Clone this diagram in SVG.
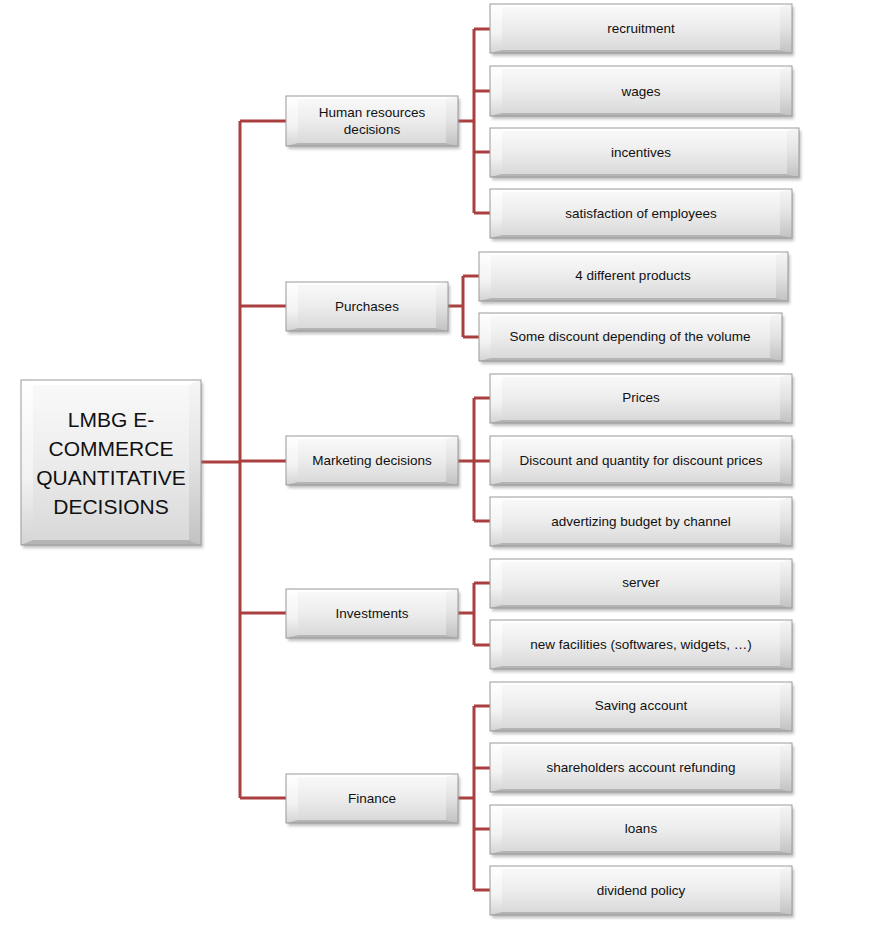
<svg xmlns="http://www.w3.org/2000/svg" width="885" height="927" viewBox="0 0 885 927">
<defs>
<linearGradient id="gFace" x1="0" y1="0" x2="0" y2="1">
<stop offset="0" stop-color="#fafafa"/>
<stop offset="0.45" stop-color="#eeeeee"/>
<stop offset="1" stop-color="#d7d7d7"/>
</linearGradient>
<linearGradient id="gL" x1="0" y1="0" x2="0" y2="1">
<stop offset="0" stop-color="#ffffff"/>
<stop offset="0.6" stop-color="#f2f2f2"/>
<stop offset="1" stop-color="#d4d4d4"/>
</linearGradient>
<linearGradient id="gR" x1="0" y1="0" x2="0" y2="1">
<stop offset="0" stop-color="#f6f6f6"/>
<stop offset="0.5" stop-color="#e2e2e2"/>
<stop offset="1" stop-color="#c2c2c2"/>
</linearGradient>
<filter id="blur" x="-10%" y="-20%" width="120%" height="140%">
<feGaussianBlur stdDeviation="1.4"/>
</filter>
<style>
.sh{fill:#808080;opacity:.5;filter:url(#blur)}
.face{fill:url(#gFace)}
.bt{fill:#ffffff;opacity:.9}
.bl{fill:url(#gL)}
.br{fill:url(#gR)}
.bb{fill:#b4b4b4}
.edge{fill:none;stroke:#9a9a9a;stroke-width:1}
text{font-family:"Liberation Sans","Open Sans",Arial,sans-serif;fill:#111111;text-anchor:middle}
.t{font-size:13.5px}
.tr{font-size:21px}
.conn{fill:none;stroke:#a9403f;stroke-width:3;stroke-linejoin:miter}
</style>
</defs>
<rect width="885" height="927" fill="#ffffff"/>

<g id="connectors">
<path class="conn" d="M201 462H240M240 121V798M240 121H286M240 306H286M240 461H286M240 613H286M240 798H286"/>
<path class="conn" d="M458 121H474M474 29V213M474 29H490M474 91H490M474 152H490M474 213H490"/>
<path class="conn" d="M448 306H463M463 276V337M463 276H479M463 337H479"/>
<path class="conn" d="M458 461H474M474 398V521M474 398H490M474 461H490M474 521H490"/>
<path class="conn" d="M458 613H474M474 583V645M474 583H490M474 645H490"/>
<path class="conn" d="M458 798H474M474 706V890M474 706H490M474 768H490M474 829H490M474 890H490"/>
</g>

<g id="n-root" transform="translate(21,380)">
<rect class="sh" x="2" y="3" width="180" height="165"/>
<rect class="face" width="180" height="165"/>
<path class="bt" d="M0 0h180l-12 5h-156z"/>
<path class="bl" d="M0 0l12 5v155l-12 5z"/>
<path class="br" d="M180 0v165l-12-5v-155z"/>
<path class="bb" d="M0 165l12-5h156l12 5z"/>
<rect class="edge" width="180" height="165"/>
<text class="tr" x="90" y="47">LMBG E-</text>
<text class="tr" x="90" y="76">COMMERCE</text>
<text class="tr" x="90" y="105">QUANTITATIVE</text>
<text class="tr" x="90" y="134">DECISIONS</text>
</g>

<g id="n-hr" transform="translate(286,96)">
<rect class="sh" x="2" y="3" width="172" height="50"/>
<rect class="face" width="172" height="50"/>
<path class="bt" d="M0 0h172l-12 3h-148z"/>
<path class="bl" d="M0 0l12 3v44l-12 3z"/>
<path class="br" d="M172 0v50l-12-3v-44z"/>
<path class="bb" d="M0 50l12-3h148l12 3z"/>
<rect class="edge" width="172" height="50"/>
<text class="t" x="86" y="21">Human resources</text>
<text class="t" x="86" y="38">decisions</text>
</g>

<g id="n-pur" transform="translate(286,282)">
<rect class="sh" x="2" y="3" width="162" height="49"/>
<rect class="face" width="162" height="49"/>
<path class="bt" d="M0 0h162l-12 3h-138z"/>
<path class="bl" d="M0 0l12 3v43l-12 3z"/>
<path class="br" d="M162 0v49l-12-3v-43z"/>
<path class="bb" d="M0 49l12-3h138l12 3z"/>
<rect class="edge" width="162" height="49"/>
<text class="t" x="81" y="29">Purchases</text>
</g>

<g id="n-mkt" transform="translate(286,436)">
<rect class="sh" x="2" y="3" width="172" height="49"/>
<rect class="face" width="172" height="49"/>
<path class="bt" d="M0 0h172l-12 3h-148z"/>
<path class="bl" d="M0 0l12 3v43l-12 3z"/>
<path class="br" d="M172 0v49l-12-3v-43z"/>
<path class="bb" d="M0 49l12-3h148l12 3z"/>
<rect class="edge" width="172" height="49"/>
<text class="t" x="86" y="29">Marketing decisions</text>
</g>

<g id="n-inv" transform="translate(286,589)">
<rect class="sh" x="2" y="3" width="172" height="49"/>
<rect class="face" width="172" height="49"/>
<path class="bt" d="M0 0h172l-12 3h-148z"/>
<path class="bl" d="M0 0l12 3v43l-12 3z"/>
<path class="br" d="M172 0v49l-12-3v-43z"/>
<path class="bb" d="M0 49l12-3h148l12 3z"/>
<rect class="edge" width="172" height="49"/>
<text class="t" x="86" y="29">Investments</text>
</g>

<g id="n-fin" transform="translate(286,774)">
<rect class="sh" x="2" y="3" width="172" height="49"/>
<rect class="face" width="172" height="49"/>
<path class="bt" d="M0 0h172l-12 3h-148z"/>
<path class="bl" d="M0 0l12 3v43l-12 3z"/>
<path class="br" d="M172 0v49l-12-3v-43z"/>
<path class="bb" d="M0 49l12-3h148l12 3z"/>
<rect class="edge" width="172" height="49"/>
<text class="t" x="86" y="29">Finance</text>
</g>

<g id="n-recruitment" transform="translate(490,4)">
<rect class="sh" x="2" y="3" width="302" height="49"/>
<rect class="face" width="302" height="49"/>
<path class="bt" d="M0 0h302l-12 3h-278z"/>
<path class="bl" d="M0 0l12 3v43l-12 3z"/>
<path class="br" d="M302 0v49l-12-3v-43z"/>
<path class="bb" d="M0 49l12-3h278l12 3z"/>
<rect class="edge" width="302" height="49"/>
<text class="t" x="151" y="29">recruitment</text>
</g>

<g id="n-wages" transform="translate(490,66)">
<rect class="sh" x="2" y="3" width="302" height="50"/>
<rect class="face" width="302" height="50"/>
<path class="bt" d="M0 0h302l-12 3h-278z"/>
<path class="bl" d="M0 0l12 3v44l-12 3z"/>
<path class="br" d="M302 0v50l-12-3v-44z"/>
<path class="bb" d="M0 50l12-3h278l12 3z"/>
<rect class="edge" width="302" height="50"/>
<text class="t" x="151" y="30">wages</text>
</g>

<g id="n-incentives" transform="translate(490,128)">
<rect class="sh" x="2" y="3" width="309" height="49"/>
<rect class="face" width="309" height="49"/>
<path class="bt" d="M0 0h309l-12 3h-285z"/>
<path class="bl" d="M0 0l12 3v43l-12 3z"/>
<path class="br" d="M309 0v49l-12-3v-43z"/>
<path class="bb" d="M0 49l12-3h285l12 3z"/>
<rect class="edge" width="309" height="49"/>
<text class="t" x="151" y="29">incentives</text>
</g>

<g id="n-satisfaction" transform="translate(490,189)">
<rect class="sh" x="2" y="3" width="302" height="49"/>
<rect class="face" width="302" height="49"/>
<path class="bt" d="M0 0h302l-12 3h-278z"/>
<path class="bl" d="M0 0l12 3v43l-12 3z"/>
<path class="br" d="M302 0v49l-12-3v-43z"/>
<path class="bb" d="M0 49l12-3h278l12 3z"/>
<rect class="edge" width="302" height="49"/>
<text class="t" x="151" y="29">satisfaction of employees</text>
</g>

<g id="n-products" transform="translate(479,252)">
<rect class="sh" x="2" y="3" width="309" height="49"/>
<rect class="face" width="309" height="49"/>
<path class="bt" d="M0 0h309l-12 3h-285z"/>
<path class="bl" d="M0 0l12 3v43l-12 3z"/>
<path class="br" d="M309 0v49l-12-3v-43z"/>
<path class="bb" d="M0 49l12-3h285l12 3z"/>
<rect class="edge" width="309" height="49"/>
<text class="t" x="154" y="28">4 different products</text>
</g>

<g id="n-volume" transform="translate(479,313)">
<rect class="sh" x="2" y="3" width="303" height="48"/>
<rect class="face" width="303" height="48"/>
<path class="bt" d="M0 0h303l-12 3h-279z"/>
<path class="bl" d="M0 0l12 3v42l-12 3z"/>
<path class="br" d="M303 0v48l-12-3v-42z"/>
<path class="bb" d="M0 48l12-3h279l12 3z"/>
<rect class="edge" width="303" height="48"/>
<text class="t" x="151" y="28">Some discount depending of the volume</text>
</g>

<g id="n-prices" transform="translate(490,374)">
<rect class="sh" x="2" y="3" width="302" height="49"/>
<rect class="face" width="302" height="49"/>
<path class="bt" d="M0 0h302l-12 3h-278z"/>
<path class="bl" d="M0 0l12 3v43l-12 3z"/>
<path class="br" d="M302 0v49l-12-3v-43z"/>
<path class="bb" d="M0 49l12-3h278l12 3z"/>
<rect class="edge" width="302" height="49"/>
<text class="t" x="151" y="28">Prices</text>
</g>

<g id="n-discount" transform="translate(490,436)">
<rect class="sh" x="2" y="3" width="302" height="49"/>
<rect class="face" width="302" height="49"/>
<path class="bt" d="M0 0h302l-12 3h-278z"/>
<path class="bl" d="M0 0l12 3v43l-12 3z"/>
<path class="br" d="M302 0v49l-12-3v-43z"/>
<path class="bb" d="M0 49l12-3h278l12 3z"/>
<rect class="edge" width="302" height="49"/>
<text class="t" x="151" y="29">Discount and quantity for discount prices</text>
</g>

<g id="n-advertizing" transform="translate(490,497)">
<rect class="sh" x="2" y="3" width="302" height="49"/>
<rect class="face" width="302" height="49"/>
<path class="bt" d="M0 0h302l-12 3h-278z"/>
<path class="bl" d="M0 0l12 3v43l-12 3z"/>
<path class="br" d="M302 0v49l-12-3v-43z"/>
<path class="bb" d="M0 49l12-3h278l12 3z"/>
<rect class="edge" width="302" height="49"/>
<text class="t" x="151" y="29">advertizing budget by channel</text>
</g>

<g id="n-server" transform="translate(490,559)">
<rect class="sh" x="2" y="3" width="302" height="49"/>
<rect class="face" width="302" height="49"/>
<path class="bt" d="M0 0h302l-12 3h-278z"/>
<path class="bl" d="M0 0l12 3v43l-12 3z"/>
<path class="br" d="M302 0v49l-12-3v-43z"/>
<path class="bb" d="M0 49l12-3h278l12 3z"/>
<rect class="edge" width="302" height="49"/>
<text class="t" x="151" y="28">server</text>
</g>

<g id="n-facilities" transform="translate(490,620)">
<rect class="sh" x="2" y="3" width="302" height="49"/>
<rect class="face" width="302" height="49"/>
<path class="bt" d="M0 0h302l-12 3h-278z"/>
<path class="bl" d="M0 0l12 3v43l-12 3z"/>
<path class="br" d="M302 0v49l-12-3v-43z"/>
<path class="bb" d="M0 49l12-3h278l12 3z"/>
<rect class="edge" width="302" height="49"/>
<text class="t" x="151" y="29">new facilities (softwares, widgets, …)</text>
</g>

<g id="n-saving" transform="translate(490,682)">
<rect class="sh" x="2" y="3" width="302" height="49"/>
<rect class="face" width="302" height="49"/>
<path class="bt" d="M0 0h302l-12 3h-278z"/>
<path class="bl" d="M0 0l12 3v43l-12 3z"/>
<path class="br" d="M302 0v49l-12-3v-43z"/>
<path class="bb" d="M0 49l12-3h278l12 3z"/>
<rect class="edge" width="302" height="49"/>
<text class="t" x="151" y="28">Saving account</text>
</g>

<g id="n-shareholders" transform="translate(490,743)">
<rect class="sh" x="2" y="3" width="302" height="49"/>
<rect class="face" width="302" height="49"/>
<path class="bt" d="M0 0h302l-12 3h-278z"/>
<path class="bl" d="M0 0l12 3v43l-12 3z"/>
<path class="br" d="M302 0v49l-12-3v-43z"/>
<path class="bb" d="M0 49l12-3h278l12 3z"/>
<rect class="edge" width="302" height="49"/>
<text class="t" x="151" y="29">shareholders account refunding</text>
</g>

<g id="n-loans" transform="translate(490,805)">
<rect class="sh" x="2" y="3" width="302" height="49"/>
<rect class="face" width="302" height="49"/>
<path class="bt" d="M0 0h302l-12 3h-278z"/>
<path class="bl" d="M0 0l12 3v43l-12 3z"/>
<path class="br" d="M302 0v49l-12-3v-43z"/>
<path class="bb" d="M0 49l12-3h278l12 3z"/>
<rect class="edge" width="302" height="49"/>
<text class="t" x="151" y="28">loans</text>
</g>

<g id="n-dividend" transform="translate(490,866)">
<rect class="sh" x="2" y="3" width="302" height="49"/>
<rect class="face" width="302" height="49"/>
<path class="bt" d="M0 0h302l-12 3h-278z"/>
<path class="bl" d="M0 0l12 3v43l-12 3z"/>
<path class="br" d="M302 0v49l-12-3v-43z"/>
<path class="bb" d="M0 49l12-3h278l12 3z"/>
<rect class="edge" width="302" height="49"/>
<text class="t" x="151" y="29">dividend policy</text>
</g>
</svg>
